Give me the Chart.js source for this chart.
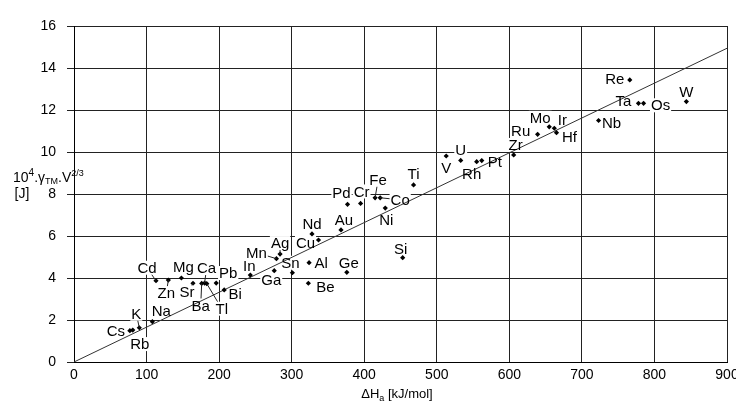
<!DOCTYPE html>
<html>
<head>
<meta charset="utf-8">
<script src="https://cdn.jsdelivr.net/npm/chart.js@4.4.1/dist/chart.umd.min.js"></script>
<style>
body{margin:0;background:#fff;}
canvas{display:block;}
</style>
</head>
<body>
<canvas id="chart" width="736" height="403"></canvas>
<script>

// Data

const elements = ["Cs","Rb","K","Na","Cd","Zn","Mg","Sr","Ba","Ca","Tl","Pb","Bi","In","Ga","Mn","Ag","Sn","Be","Al","Nd","Cu","Au","Ge","Pd","Cr","Fe","Co","Ni","Si","Ti","V","U","Rh","Pt","Zr","Ru","Mo","Ir","Hf","Nb","Re","Ta","Os","W"];

const enthalpy = [77,81,90,108,113,130,148,164,176,180,183,196,207,243,276,279,284,301,323,324,328,337,368,376,377,395,415,422,429,453,468,513,533,555,562,606,639,655,662,665,723,766,778,785,844];

const energy = [1.49,1.52,1.63,1.92,3.87,3.90,4.00,3.75,3.74,3.76,3.73,3.76,3.43,4.14,4.35,4.92,5.14,4.25,3.75,4.73,6.10,5.81,6.29,4.27,7.51,7.55,7.82,7.82,7.33,4.97,8.43,9.81,9.60,9.54,9.59,9.86,10.84,11.20,11.13,10.92,11.50,13.43,12.32,12.32,12.40];

// fitted line end points
const fitX = [0,900];
const fitY = [0,14.94];

const xTicks = [0,100,200,300,400,500,600,700,800,900];
const yTicks = [0,2,4,6,8,10,12,14,16];

// Label placement (pixel offset of text centre from its point, leader line)

const labelLayout = {
Cs:[-14,0],Rb:[7,14],K:[-3,-14,1],Na:[9,-11],Cd:[-9,-13,1],Zn:[-2,13,1],
Mg:[2,-11],Sr:[-6,9,1],Ba:[-1,22,1],Ca:[2,-15,1],Tl:[15,25,1],Pb:[12,-10],
Bi:[11,4],In:[-1,-9],Ga:[-3,9],Mn:[-20,-6,1],Ag:[0,-11,1],Sn:[-2,-10],
Be:[17,4],Al:[12,0],Nd:[0,-10],Cu:[-13,3],Au:[3,-10],Ge:[2,-9],
Pd:[-6,-11],Cr:[1,-12],Fe:[3,-18,1],Co:[20,2,1],Ni:[1,12],Si:[-2,-9],
Ti:[0,-11],V:[0,12],U:[0,-11],Rh:[-5,12],Pt:[13,1],Zr:[2,-10],
Ru:[-17,-4],Mo:[-9,-9],Ir:[8,-8],Hf:[13,4],Nb:[13,2],Re:[-15,-1],
Ta:[-15,-2],Os:[17,2],W:[0,-10]
};

const FONT = "Liberation Sans, Arial, sans-serif";

function labelBoxes(chart){
const ctx = chart.ctx;
const meta = chart.getDatasetMeta(0);
ctx.font = "15px " + FONT;
let boxes = [];
for(let i=0;i<elements.length;i++){
let p = meta.data[i];
let lay = labelLayout[elements[i]] || [0,-10];
let w = ctx.measureText(elements[i]).width;
boxes.push({
name:elements[i],
px:p.x, py:p.y,
cx:p.x+lay[0], cy:p.y+lay[1],
w:w, h:12,
leader:lay[2]===1
});
}
return boxes;
}

const pointLabels = {
id:"pointLabels",

beforeDatasetsDraw(chart){
const ctx = chart.ctx;
ctx.save();
ctx.fillStyle = "#fff";
labelBoxes(chart).forEach(b=>{
ctx.fillRect(b.cx-b.w/2-1,b.cy-b.h/2-1,b.w+2,b.h+2);
});
ctx.restore();
},

afterDatasetsDraw(chart){
const ctx = chart.ctx;
ctx.save();
ctx.fillStyle = "#000";
ctx.strokeStyle = "#222";
ctx.lineWidth = 1;
ctx.textAlign = "center";
ctx.textBaseline = "middle";
ctx.font = "15px " + FONT;
labelBoxes(chart).forEach(b=>{
ctx.fillText(b.name,b.cx,b.cy+1);
if(b.leader){
let dx = b.px-b.cx, dy = b.py-b.cy;
let hw = b.w/2+1, hh = b.h/2+1;
let t = Math.min(dx!==0 ? hw/Math.abs(dx) : 99, dy!==0 ? hh/Math.abs(dy) : 99);
if(t<1){
ctx.beginPath();
ctx.moveTo(b.cx+dx*t,b.cy+dy*t);
ctx.lineTo(b.px,b.py);
ctx.stroke();
}
}
});
ctx.restore();
},

afterDraw(chart){
const ctx = chart.ctx;
ctx.save();
ctx.fillStyle = "#000";
ctx.textBaseline = "alphabetic";
ctx.textAlign = "left";

// y axis title: 10^4.γTM.V^2/3 [J]
let parts = [
["10",14,0],["4",10,-6],[".",14,0],["\u03b3",14,0],["TM",9,2],
[".V",14,0],["2/3",9,-6]
];
let x = 13, y = 182;
parts.forEach(pt=>{
ctx.font = pt[1] + "px " + FONT;
ctx.fillText(pt[0],x,y+pt[2]);
x += ctx.measureText(pt[0]).width;
});
ctx.font = "14px " + FONT;
ctx.textAlign = "center";
ctx.fillText("[J]",22,198);

// x axis title: ΔHa [kJ/mol]
let xp = [["\u0394H",13,0],["a",9,3],[" [kJ/mol]",13,0]];
let total = 0;
xp.forEach(pt=>{
ctx.font = pt[1] + "px " + FONT;
total += ctx.measureText(pt[0]).width;
});
let sx = 397 - total/2;
ctx.textAlign = "left";
xp.forEach(pt=>{
ctx.font = pt[1] + "px " + FONT;
ctx.fillText(pt[0],sx,398+pt[2]);
sx += ctx.measureText(pt[0]).width;
});
ctx.restore();
}
};

// Chart

const points = enthalpy.map((v,i)=>({x:v,y:energy[i]}));
const fitLine = fitX.map((v,i)=>({x:v,y:fitY[i]}));

new Chart(
document.getElementById("chart"),
{
type:"scatter",
data:{
datasets:[
{
data:points,
pointStyle:"rectRot",
pointRadius:2.6,
backgroundColor:"#000",
borderColor:"#000",
borderWidth:0
},
{
data:fitLine,
showLine:true,
pointRadius:0,
borderColor:"#333",
borderWidth:1
}
]
},
options:{
responsive:false,
animation:false,
layout:{padding:{left:0,right:9,top:26,bottom:0}},
plugins:{
legend:{display:false},
tooltip:{enabled:false}
},
scales:{
x:{
type:"linear",
min:0,max:900,
afterBuildTicks(scale){ scale.ticks = xTicks.map(v=>({value:v})); },
afterFit(scale){ scale.height = 41; scale.paddingLeft = 0; scale.paddingRight = 0; },
ticks:{color:"#000",font:{family:FONT,size:14},padding:5,maxRotation:0},
grid:{color:"#222",drawTicks:false},
border:{color:"#000"}
},
y:{
type:"linear",
min:0,max:16,
afterBuildTicks(scale){ scale.ticks = yTicks.map(v=>({value:v})); },
afterFit(scale){ scale.width = 74; scale.paddingTop = 0; scale.paddingBottom = 0; },
ticks:{color:"#000",font:{family:FONT,size:14},padding:11},
grid:{color:"#222",tickLength:7},
border:{color:"#000"}
}
}
},
plugins:[pointLabels]
}
);

</script>
</body>
</html>
